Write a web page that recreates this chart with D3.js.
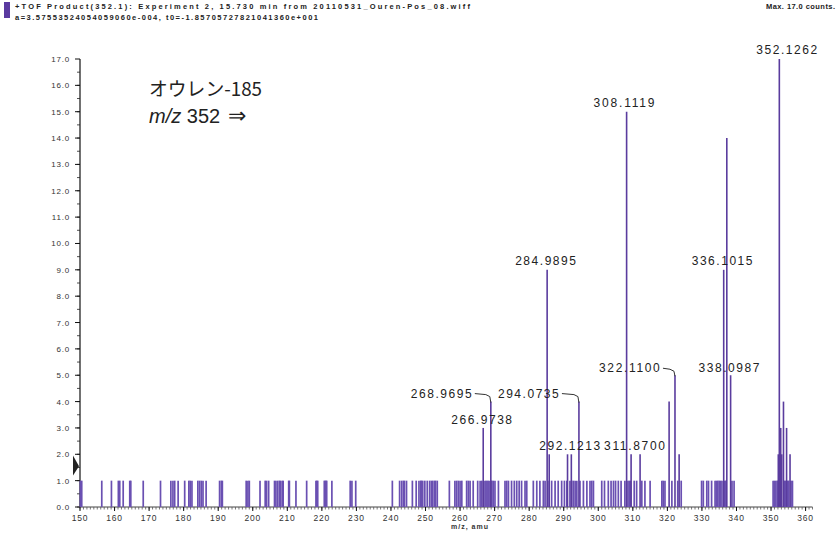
<!DOCTYPE html>
<html><head><meta charset="utf-8">
<script src="https://cdn.jsdelivr.net/npm/d3@7"></script>
<style>
html,body{margin:0;padding:0;background:#fff;}
svg{display:block;}
</style></head>
<body>
<svg id="chart" width="840" height="538"></svg>
<script>
// ---------- data ----------
const headerLine1 = "+TOF Product(352.1): Experiment 2, 15.730 min from 20110531_Ouren-Pos_08.wiff";
const headerLine2 = "a=3.57553524054059060e-004, t0=-1.85705727821041360e+001";
const headerRight = "Max. 17.0 counts.";
const xTitle = "m/z, amu";
const noteLine1 = "オウレン-185";
const xTicks = [150,160,170,180,190,200,210,220,230,240,250,260,270,280,290,300,310,320,330,340,350,360];
const yTicks = [0,1,2,3,4,5,6,7,8,9,10,11,12,13,14,15,16,17];

// low-level ions (1 count each)
const noiseMz = [150.1,150.5,156.3,159.1,161.1,161.5,162.5,164.4,164.7,168.3,173.3,176.3,176.9,177.4,178.4,180.3,181.5,181.9,182.4,184.1,184.6,185.1,185.6,186.5,190.4,190.9,191.2,198.1,198.6,199.0,202.1,203.6,204.0,204.6,206.3,206.7,207.2,207.7,208.0,208.5,208.8,210.4,210.6,212.5,215.6,218.3,218.5,218.8,220.7,221.0,221.2,221.4,222.9,228.2,228.7,229.8,240.4,242.5,243.1,243.6,243.9,244.5,246.2,247.3,248.1,248.6,248.8,249.2,249.8,250.5,251.2,251.7,252.1,252.6,252.9,253.4,256.9,258.5,259.0,259.5,260.0,260.5,261.9,262.4,262.9,263.8,265.1,265.8,266.3,267.2,267.5,267.8,268.1,268.4,269.0,269.2,269.6,270.1,271.1,273.0,273.5,274.0,274.9,275.7,276.4,277.1,277.8,278.8,279.3,281.2,282.2,283.1,284.1,284.6,285.4,286.5,287.5,288.4,289.4,290.2,290.9,291.8,292.3,292.8,293.3,293.8,294.7,295.7,296.7,297.6,298.1,298.6,301.0,301.8,302.9,303.7,304.4,305.0,305.8,306.6,307.7,308.6,309.0,309.4,310.4,311.1,312.6,313.5,315.0,318.4,318.8,319.3,321.3,323.0,324.0,329.9,330.4,331.4,331.9,332.8,333.8,334.2,334.6,335.0,335.4,335.8,336.6,336.9,338.7,339.3,350.6,351.0,351.4,351.8,352.0,353.9,354.2,354.8,355.1,355.8,356.2];
const noiseCount = noiseMz.map(() => 1.0);

// major ions
const majorMz     = [266.7,268.9,285.2,285.8,291.1,292.2,294.4,308.2,309.5,312.1,320.5,322.2,323.4,336.3,337.2,338.3,352.1,352.4,352.8,353.1,353.6,354.5,355.5];
const majorCounts = [3,    4,    9,    2,    2,    2,    4,    15,   2,    2,    4,    5,    2,    9,    14,   5,    2,    17,   3,    2,    4,    3,    2];

// peak labels (text, m/z of labelled peak, count of labelled peak)
const labelText   = ["352.1262","308.1119","284.9895","336.1015","338.0987","322.1100","268.9695","294.0735","266.9738","292.1213","311.8700"];
const labelMz     = [352.4,308.2,285.2,336.3,338.3,322.2,268.9,294.4,266.7,292.2,312.1];
const labelCounts = [17,15,9,9,5,5,4,4,3,2,2];

// ---------- layout ----------
const labelLayout = [
  {dx: 8,   dy: -5},
  {dx: -2,  dy: -5},
  {dx: -1,  dy: -5},
  {dx: -1,  dy: -5},
  {dx: -1,  dy: -3},
  {dx: -45, dy: -3, lead: true},
  {dx: -49, dy: -4, lead: true},
  {dx: -50, dy: -4, lead: true},
  {dx: -1,  dy: -4},
  {dx: -1,  dy: -4},
  {dx: -5,  dy: -4}
];

const svg = d3.select("#chart");
const x = d3.scaleLinear().domain([150, 362]).range([80, 812.5]);
const y = d3.scaleLinear().domain([0, 17]).range([507, 59]);
const ink = "#5a3c9e";
const numFont = "'Liberation Sans', Arial, sans-serif";

// header
svg.append("rect").attr("x",4).attr("y",2).attr("width",6).attr("height",16).attr("fill","#5a3aa0");
svg.append("text").attr("x",15).attr("y",9).attr("font-family",numFont).attr("font-size",7.5).attr("font-weight","bold")
  .attr("fill","#222").attr("textLength",455).attr("lengthAdjust","spacing").text(headerLine1);
svg.append("text").attr("x",15).attr("y",20).attr("font-family",numFont).attr("font-size",7.5).attr("font-weight","bold")
  .attr("fill","#222").attr("textLength",303).attr("lengthAdjust","spacing").text(headerLine2);
svg.append("text").attr("x",766).attr("y",9).attr("font-family",numFont).attr("font-size",7.5).attr("font-weight","bold")
  .attr("fill","#222").attr("textLength",69).attr("lengthAdjust","spacing").text(headerRight);

// axes
const yAxis = svg.append("g");
yAxis.append("line").attr("x1",80).attr("x2",80).attr("y1",y(17)).attr("y2",y(0)).attr("stroke","#111").attr("stroke-width",1.2);
const yMinor = d3.range(0, 17, 0.5);
yAxis.selectAll("line.ymin").data(yMinor).join("line").attr("class","ymin")
  .attr("x1",77).attr("x2",80).attr("y1",d=>y(d)).attr("y2",d=>y(d)).attr("stroke","#222").attr("stroke-width",0.8);
yAxis.selectAll("line.ymaj").data(yTicks).join("line").attr("class","ymaj")
  .attr("x1",75).attr("x2",80).attr("y1",d=>y(d)).attr("y2",d=>y(d)).attr("stroke","#111").attr("stroke-width",1);
yAxis.selectAll("text").data(yTicks).join("text")
  .attr("x",70).attr("y",d=>y(d)+3).attr("text-anchor","end")
  .attr("font-family",numFont).attr("font-size",8).attr("letter-spacing",0.8).attr("fill","#333")
  .text(d=>d.toFixed(1));

const xAxis = svg.append("g");
xAxis.append("line").attr("x1",80).attr("x2",812.5).attr("y1",507).attr("y2",507).attr("stroke","#444").attr("stroke-width",1);
xAxis.selectAll("line.xmin").data(d3.range(150, 363, 1)).join("line").attr("class","xmin")
  .attr("x1",d=>x(d)).attr("x2",d=>x(d)).attr("y1",507).attr("y2",509.5).attr("stroke","#555").attr("stroke-width",0.8);
xAxis.selectAll("line.xmaj").data(xTicks).join("line").attr("class","xmaj")
  .attr("x1",d=>x(d)).attr("x2",d=>x(d)).attr("y1",507).attr("y2",511).attr("stroke","#111").attr("stroke-width",1);
xAxis.selectAll("text").data(xTicks).join("text")
  .attr("x",d=>x(d)).attr("y",521).attr("text-anchor","middle")
  .attr("font-family",numFont).attr("font-size",8.5).attr("letter-spacing",0.8).attr("fill","#333")
  .text(d=>d);
svg.append("text").attr("x",470).attr("y",529).attr("text-anchor","middle")
  .attr("font-family",numFont).attr("font-size",7).attr("font-weight","bold").attr("letter-spacing",1).attr("fill","#333").text(xTitle);

// threshold marker
svg.append("path").attr("d",`M73,${y(1.95)} L79,${y(1.55)} L73,${y(1.2)} Z`).attr("fill","#222");

// sticks
const noise = noiseMz.map((m,i)=>({m, c: noiseCount[i]}));
const major = majorMz.map((m,i)=>({m, c: majorCounts[i]}));
svg.append("g").selectAll("line").data(noise).join("line")
  .attr("x1",d=>x(d.m)).attr("x2",d=>x(d.m)).attr("y1",y(0)).attr("y2",d=>y(d.c))
  .attr("stroke","#6a50b2").attr("stroke-width",1.7);
svg.append("g").selectAll("line").data(major).join("line")
  .attr("x1",d=>x(d.m)).attr("x2",d=>x(d.m)).attr("y1",y(0)).attr("y2",d=>y(d.c))
  .attr("stroke",ink).attr("stroke-width",1.6);

// peak labels
const lab = svg.append("g");
labelText.forEach((t,i)=>{
  const L = labelLayout[i];
  const px = x(labelMz[i]), py = y(labelCounts[i]);
  const cx = px + L.dx, by = py + L.dy;
  lab.append("text").attr("x",cx).attr("y",by).attr("text-anchor","middle")
    .attr("font-family",numFont).attr("font-size",12).attr("letter-spacing",1.2).attr("fill","#222")
    .attr("textLength",62).attr("lengthAdjust","spacing").text(t);
  if (L.lead) {
    const x0 = cx + 33;
    lab.append("path").attr("d",`M${x0},${by-4} L${px-5},${by-3} L${px-1},${by-1} L${px},${py+1}`)
      .attr("fill","none").attr("stroke","#333").attr("stroke-width",1);
  }
});

// annotation
svg.append("text").attr("x",149).attr("y",96).attr("font-family","'Noto Sans CJK JP', sans-serif")
  .attr("font-size",19).attr("fill","#222").attr("textLength",113).attr("lengthAdjust","spacingAndGlyphs").text(noteLine1);
const t2 = svg.append("text").attr("x",149).attr("y",123).attr("font-family","'Liberation Sans', Arial, sans-serif")
  .attr("font-size",20).attr("fill","#222");
t2.append("tspan").attr("font-style","italic").text("m/z");
t2.append("tspan").text(" 352 ");
t2.append("tspan").attr("dx",2).attr("font-size",22).text("⇒");
</script>
</body></html>
